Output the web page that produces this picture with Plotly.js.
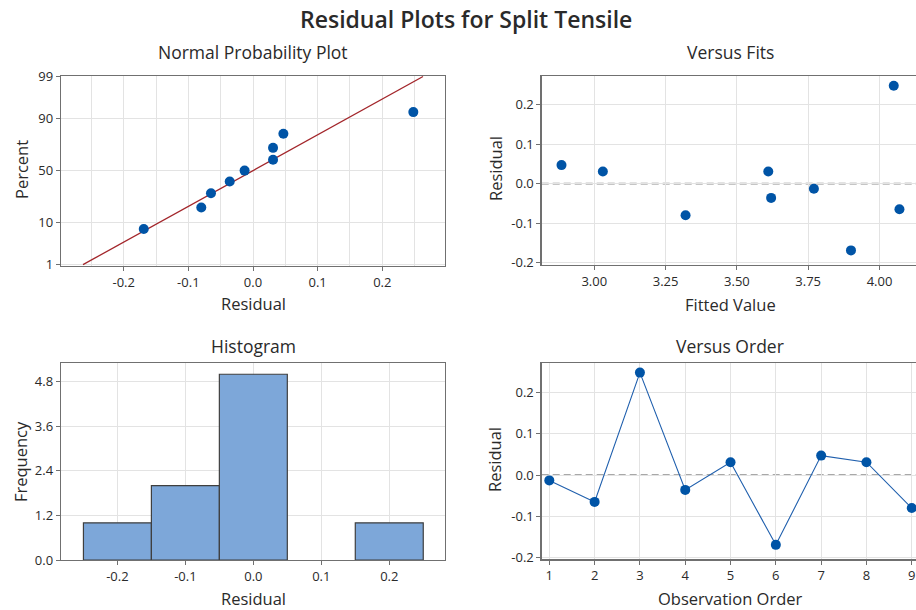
<!DOCTYPE html>
<html>
<head>
<meta charset="utf-8">
<script src="https://cdn.plot.ly/plotly-3.0.1.min.js"></script>
<style>
html,body{margin:0;padding:0;overflow:hidden;background:#fff;}
#chart{width:922px;height:610px;}
</style>
</head>
<body>
<div id="chart"></div>
<script>
// ---- data ----
const observationOrder = [1, 2, 3, 4, 5, 6, 7, 8, 9];
const residuals = [-0.013, -0.065, 0.248, -0.036, 0.031, -0.169, 0.047, 0.031, -0.080];
const fittedValues = [3.77, 4.07, 4.05, 3.62, 3.03, 3.90, 2.885, 3.61, 3.32];
const normalPercents = [7.4, 18.1, 28.7, 39.4, 50, 60.6, 71.3, 81.9, 92.6];
const fitLineResidual = [-0.263, 0.263];
const fitLinePercent = [1, 99];
const percentTicks = [1, 10, 50, 90, 99];
const percentTickText = ['1', '10', '50', '90', '99'];
const residualTicks = [-0.2, -0.1, 0, 0.1, 0.2];
const residualTickText = ['-0.2', '-0.1', '0.0', '0.1', '0.2'];
const fitTicks = [3.00, 3.25, 3.50, 3.75, 4.00];
const fitTickText = ['3.00', '3.25', '3.50', '3.75', '4.00'];
const freqTicks = [0, 1.2, 2.4, 3.6, 4.8];
const freqTickText = ['0.0', '1.2', '2.4', '3.6', '4.8'];
const orderTickText = ['1', '2', '3', '4', '5', '6', '7', '8', '9'];

// ---- normal probability scale (inverse normal CDF, Acklam) ----
function probit(pct) {
  const p = pct / 100;
  const a = [-3.969683028665376e+01, 2.209460984245205e+02, -2.759285104469687e+02, 1.383577518672690e+02, -3.066479806614716e+01, 2.506628277459239e+00];
  const b = [-5.447609879822406e+01, 1.615858368580409e+02, -1.556989798598866e+02, 6.680131188771972e+01, -1.328068155288572e+01];
  const c = [-7.784894002430293e-03, -3.223964580411365e-01, -2.400758277161838e+00, -2.549671669539686e+00, 4.374664141464968e+00, 2.938163982698783e+00];
  const d = [7.784695709041462e-03, 3.224671290700398e-01, 2.445134137142996e+00, 3.754408661907416e+00];
  const pl = 0.02425, ph = 1 - pl;
  let q, r;
  if (p < pl) {
    q = Math.sqrt(-2 * Math.log(p));
    return (((((c[0]*q+c[1])*q+c[2])*q+c[3])*q+c[4])*q+c[5]) / ((((d[0]*q+d[1])*q+d[2])*q+d[3])*q+1);
  } else if (p <= ph) {
    q = p - 0.5; r = q * q;
    return (((((a[0]*r+a[1])*r+a[2])*r+a[3])*r+a[4])*r+a[5])*q / (((((b[0]*r+b[1])*r+b[2])*r+b[3])*r+b[4])*r+1);
  } else {
    q = Math.sqrt(-2 * Math.log(1 - p));
    return -(((((c[0]*q+c[1])*q+c[2])*q+c[3])*q+c[4])*q+c[5]) / ((((d[0]*q+d[1])*q+d[2])*q+d[3])*q+1);
  }
}

const W = 922, H = 610;
const fx = px => px / W;
const fy = py => 1 - py / H;

const BLUE = '#0054A6';
const TXT = '#2a2a2a';
const GRID = '#e3e3e3';
const FRAME = '#707070';
const FONT = 'Open Sans, sans-serif';

const sortedResiduals = residuals.slice().sort((a, b) => a - b);

const traces = [
  {
    type: 'scatter', mode: 'lines', x: fitLineResidual, y: fitLinePercent.map(probit),
    xaxis: 'x', yaxis: 'y', line: {color: '#A3262B', width: 1.3}, hoverinfo: 'skip'
  },
  {
    type: 'scatter', mode: 'markers', x: sortedResiduals, y: normalPercents.map(probit),
    xaxis: 'x', yaxis: 'y', marker: {color: BLUE, size: 10}
  },
  {
    type: 'scatter', mode: 'markers', x: fittedValues, y: residuals,
    xaxis: 'x2', yaxis: 'y2', marker: {color: BLUE, size: 10}
  },
  {
    type: 'histogram', x: residuals, xaxis: 'x3', yaxis: 'y3',
    xbins: {start: -0.25, end: 0.25, size: 0.1}, autobinx: false,
    marker: {color: '#7DA7D9', line: {color: '#3f3f3f', width: 1.2}}
  },
  {
    type: 'scatter', mode: 'lines+markers', x: observationOrder, y: residuals,
    xaxis: 'x4', yaxis: 'y4', line: {color: '#1F5FAD', width: 1.1},
    marker: {color: BLUE, size: 10}
  }
];

function axisBase(extra) {
  return Object.assign({
    showgrid: true, gridcolor: GRID, gridwidth: 1,
    zeroline: false, showline: true, linecolor: FRAME, linewidth: 1.3, mirror: true,
    ticks: 'outside', ticklen: 4, tickcolor: FRAME, tickwidth: 1,
    tickfont: {family: FONT, size: 13, color: TXT}, tickmode: 'array', fixedrange: true
  }, extra);
}

const layout = {
  width: W, height: H,
  margin: {l: 0, r: 0, t: 0, b: 0},
  paper_bgcolor: '#ffffff', plot_bgcolor: '#ffffff',
  showlegend: false, bargap: 0,
  font: {family: FONT, color: TXT},
  xaxis: axisBase({domain: [fx(61), fx(445)], anchor: 'y', range: [-0.297, 0.297],
    tickvals: residualTicks, ticktext: residualTickText,
    minor: {tickmode: 'linear', tick0: 0, dtick: 0.05, showgrid: true, gridcolor: GRID, ticks: ''}}),
  yaxis: axisBase({domain: [fy(266), fy(76)], anchor: 'x', range: [-2.36, 2.34],
    tickvals: percentTicks.map(probit), ticktext: percentTickText}),
  xaxis2: axisBase({domain: [fx(541.7), fx(919)], anchor: 'y2', range: [2.8156, 4.1385],
    tickvals: fitTicks, ticktext: fitTickText}),
  yaxis2: axisBase({domain: [fy(265), fy(76)], anchor: 'x2', range: [-0.206, 0.2727],
    tickvals: residualTicks, ticktext: residualTickText}),
  xaxis3: axisBase({domain: [fx(61), fx(445)], anchor: 'y3', range: [-0.283, 0.282],
    tickvals: residualTicks, ticktext: residualTickText}),
  yaxis3: axisBase({domain: [fy(560), fy(363.3)], anchor: 'x3', range: [0, 5.295],
    tickvals: freqTicks, ticktext: freqTickText}),
  xaxis4: axisBase({domain: [fx(541.7), fx(919)], anchor: 'y4', range: [0.832, 9.16],
    tickvals: observationOrder, ticktext: orderTickText}),
  yaxis4: axisBase({domain: [fy(559.3), fy(363.3)], anchor: 'x4', range: [-0.204, 0.2705],
    tickvals: residualTicks, ticktext: residualTickText}),
  shapes: [
    {type: 'line', xref: 'x2 domain', yref: 'y2', x0: 0, x1: 1, y0: 0, y1: 0,
      line: {color: '#8c8c8c', width: 1.6, dash: '7px,4px'}, layer: 'below'},
    {type: 'line', xref: 'x4 domain', yref: 'y4', x0: 0, x1: 1, y0: 0, y1: 0,
      line: {color: '#8c8c8c', width: 1.6, dash: '7px,4px'}, layer: 'below'}
  ],
  annotations: []
};

function addText(text, px, py, size, angle, weight) {
  layout.annotations.push({
    text: text, xref: 'paper', yref: 'paper', x: fx(px), y: fy(py),
    xanchor: 'center', yanchor: 'middle', showarrow: false,
    textangle: angle || 0, font: {family: FONT, size: size, color: TXT, weight: weight || 400}
  });
}

addText('Residual Plots for Split Tensile', 466, 19, 23, 0, 600);
addText('Normal Probability Plot', 253, 52, 17.5);
addText('Versus Fits', 730, 52, 17.5);
addText('Histogram', 253, 346, 17.5);
addText('Versus Order', 730, 346, 17.5);
addText('Residual', 253, 303, 16.5);
addText('Percent', 22, 170, 16.5, -90);
addText('Fitted Value', 730, 304, 16.5);
addText('Residual', 495, 169, 16.5, -90);
addText('Residual', 253, 598, 16.5);
addText('Frequency', 20, 462, 16.5, -90);
addText('Observation Order', 730, 598, 16.5);
addText('Residual', 495, 460, 16.5, -90);

Plotly.newPlot('chart', traces, layout, {staticPlot: true, displayModeBar: false});
</script>
</body>
</html>
